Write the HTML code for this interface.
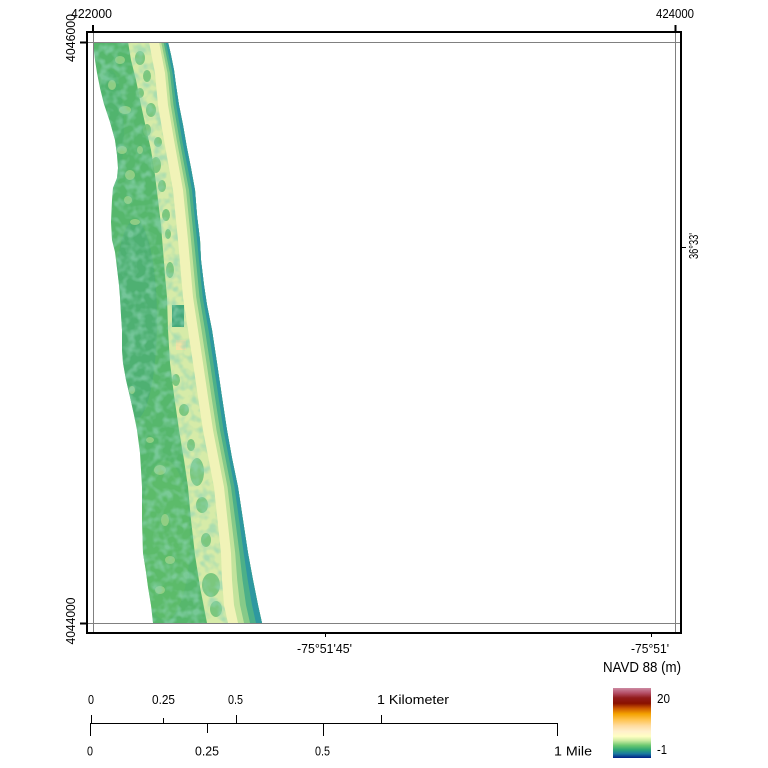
<!DOCTYPE html>
<html><head><meta charset="utf-8"><style>
html,body{margin:0;padding:0;background:#fff;}
svg{display:block}
text{font-family:"Liberation Sans",sans-serif;fill:#000;font-size:13px}
</style></head><body>
<svg width="768" height="768" viewBox="0 0 768 768" xmlns="http://www.w3.org/2000/svg">
<defs>
<clipPath id="isl"><polygon points="93,42 95,60 97,73 100,88 104,104 110,122 115,140 117,155 118,168 117,178 113,188 112,200 111,222 112,240 115,252 117,268 119,285 120,297 121,315 122,330 122,350 123,363 126,380 130,397 134,415 137,430 140,453 141,470 142,487 142,520 143,553 146,572 148,587 151,605 153,623 262,623 258,605 253,580 248,553 243,520 238,487 232,458 227,430 222,397 217,363 212,330 207,305 204,285 201,260 200,240 197,215 195,190 191,168 187,148 183,125 179,105 176,85 174,70 171,55 168,42"/></clipPath>
<linearGradient id="cb" x1="0" y1="0" x2="0" y2="1">
<stop offset="0" stop-color="#cc8aa2"/>
<stop offset="0.07" stop-color="#b55068"/>
<stop offset="0.14" stop-color="#921c1c"/>
<stop offset="0.22" stop-color="#8a1000"/>
<stop offset="0.29" stop-color="#cc5800"/>
<stop offset="0.37" stop-color="#f4a200"/>
<stop offset="0.45" stop-color="#ffc24a"/>
<stop offset="0.54" stop-color="#ffdca0"/>
<stop offset="0.62" stop-color="#fff0cc"/>
<stop offset="0.69" stop-color="#ffffc4"/>
<stop offset="0.75" stop-color="#cdeca2"/>
<stop offset="0.82" stop-color="#6cc870"/>
<stop offset="0.88" stop-color="#30a874"/>
<stop offset="0.94" stop-color="#1a78a0"/>
<stop offset="1" stop-color="#001e86"/>
</linearGradient>
<filter id="nz" x="0" y="0" width="1" height="1">
 <feTurbulence type="fractalNoise" baseFrequency="0.11" numOctaves="2" seed="7" result="t"/>
 <feColorMatrix in="t" type="matrix" values="0 0 0 0 0.27  0 0 0 0 0.66  0 0 0 0 0.46  3.2 0 0 0 -1.35"/>
</filter>
</defs>
<rect width="768" height="768" fill="#fff"/>

<g clip-path="url(#isl)">
 <rect x="88" y="42" width="200" height="581" fill="#56b76c"/>
 <ellipse cx="135" cy="320" rx="22" ry="100" fill="#44a979" opacity="0.45"/>
 <ellipse cx="110" cy="130" rx="14" ry="60" fill="#4aaf74" opacity="0.4"/>
 <ellipse cx="165" cy="540" rx="25" ry="80" fill="#62bf68" opacity="0.5"/>
 <!-- pale spots in green -->
 <g fill="#9fd48a" opacity="0.8">
  <ellipse cx="120" cy="60" rx="5" ry="4"/><ellipse cx="112" cy="85" rx="4" ry="5"/>
  <ellipse cx="125" cy="110" rx="6" ry="4"/><ellipse cx="122" cy="150" rx="5" ry="4"/>
  <ellipse cx="130" cy="175" rx="5" ry="5"/><ellipse cx="128" cy="200" rx="4" ry="4"/>
  <ellipse cx="135" cy="222" rx="5" ry="3"/><ellipse cx="140" cy="150" rx="3" ry="4"/>
  <ellipse cx="160" cy="470" rx="6" ry="5"/><ellipse cx="165" cy="520" rx="4" ry="6"/>
  <ellipse cx="170" cy="560" rx="5" ry="4"/><ellipse cx="160" cy="590" rx="5" ry="4"/>
  <ellipse cx="150" cy="440" rx="4" ry="3"/><ellipse cx="132" cy="390" rx="3" ry="4"/>
 </g>
 <!-- dune zone -->
 <polygon fill="#d6eba8" points="128,42 131,60 136,80 141,105 146,128 151,150 155,175 158,200 161,225 163,250 165,275 167,297 168,330 170,363 174,395 179,430 184,460 188,487 191,520 195,555 200,587 207,623 280,623 280,42"/>
 <g fill="#6cc177" opacity="0.85">
  <ellipse cx="140" cy="58" rx="5" ry="7"/><ellipse cx="147" cy="76" rx="4" ry="6"/>
  <ellipse cx="140" cy="93" rx="4" ry="5"/><ellipse cx="151" cy="110" rx="5" ry="7"/>
  <ellipse cx="147" cy="130" rx="4" ry="6"/><ellipse cx="158" cy="142" rx="4" ry="5"/>
  <ellipse cx="156" cy="165" rx="5" ry="8"/><ellipse cx="162" cy="186" rx="4" ry="6"/>
  <ellipse cx="166" cy="215" rx="4" ry="6"/><ellipse cx="168" cy="234" rx="3" ry="5"/>
  <ellipse cx="170" cy="270" rx="4" ry="8"/><ellipse cx="176" cy="380" rx="4" ry="6"/>
  <ellipse cx="184" cy="410" rx="5" ry="6"/><ellipse cx="191" cy="445" rx="4" ry="6"/>
  <ellipse cx="197" cy="472" rx="7" ry="14"/><ellipse cx="202" cy="505" rx="6" ry="8"/>
  <ellipse cx="206" cy="540" rx="5" ry="7"/><ellipse cx="211" cy="585" rx="9" ry="12"/>
  <ellipse cx="216" cy="609" rx="6" ry="8"/>
 </g>
 <rect x="172" y="305" width="12" height="22" fill="#44a87a"/>
 <rect x="176" y="340" width="10" height="10" fill="#f3e2a6"/>
 <!-- noise mottle -->
 <rect x="88" y="42" width="200" height="581" filter="url(#nz)" opacity="0.6"/>
 <!-- beach pale stripe -->
 <polygon fill="#f1f3b8" points="149,42 155,73 158,105 164,140 173,190 178,240 183,297 188,330 193,363 198,397 203,430 214,487 221,553 222,580 224,605 228,623 290,623 290,42"/>
 <polygon fill="#c2e39c" points="159,42 165,73 168,105 174,140 183,190 188,240 193,297 198,330 203,363 208,397 213,430 224,487 231,553 232,580 234,605 238,623 290,623 290,42"/>
 <polygon fill="#86ca88" points="161.2,42 167.5,73 170.7,105 176.7,140 186,190 191,240 196.2,297 201.5,330 206.5,363 211.5,397 216.5,430 227.5,487 235.2,553 237.2,580 240,605 244,623 290,623 290,42"/>
 <polygon fill="#4cb088" points="163.5,42 170,73 173.5,105 179.5,140 189,190 194,240 199.5,297 205,330 210,363 215,397 220,430 231,487 239.5,553 242.5,580 246,605 250,623 290,623 290,42"/>
 <polygon fill="#2e98a0" points="165.7,42 172.5,73 176.2,105 182.2,140 192,190 197,240 202.7,297 208.5,330 213.5,363 218.5,397 223.5,430 234.5,487 243.7,553 247.7,580 252,605 256,623 290,623 290,42"/>
</g>

<!-- gray lines -->
<g stroke="#808080" stroke-width="1" fill="none">
 <line x1="88" y1="42.5" x2="680" y2="42.5"/>
 <line x1="88" y1="623.5" x2="680" y2="623.5"/>
 <line x1="93.5" y1="33" x2="93.5" y2="632"/>
 <line x1="675.5" y1="33" x2="675.5" y2="632"/>
</g>
<!-- frame -->
<rect x="87" y="32" width="594" height="601" fill="none" stroke="#000" stroke-width="2"/>
<!-- ticks -->
<g stroke="#000" stroke-width="2">
 <line x1="93" y1="25" x2="93" y2="31"/>
 <line x1="675.5" y1="25" x2="675.5" y2="31"/>
 <line x1="80" y1="42.5" x2="86" y2="42.5"/>
 <line x1="80" y1="623.5" x2="86" y2="623.5"/>
</g>
<g stroke="#000" stroke-width="1">
 <line x1="325.5" y1="634" x2="325.5" y2="637"/>
 <line x1="651.5" y1="634" x2="651.5" y2="637"/>
 <line x1="682" y1="247.5" x2="686" y2="247.5"/>
</g>

<!-- axis labels -->
<text x="71" y="18" textLength="41" lengthAdjust="spacingAndGlyphs">422000</text>
<text x="656" y="18" textLength="38" lengthAdjust="spacingAndGlyphs">424000</text>
<text transform="translate(75,38) rotate(-90)" x="-24" y="0" textLength="48" lengthAdjust="spacingAndGlyphs">4046000</text>
<text transform="translate(75,621) rotate(-90)" x="-23.5" y="0" textLength="47" lengthAdjust="spacingAndGlyphs">4044000</text>
<text transform="translate(698,246) rotate(-90)" x="-13" y="0" textLength="26" lengthAdjust="spacingAndGlyphs">36°33'</text>
<text x="297" y="653" textLength="55" lengthAdjust="spacingAndGlyphs">-75°51'45'</text>
<text x="631" y="653" textLength="38" lengthAdjust="spacingAndGlyphs">-75°51'</text>
<text x="603" y="672" style="font-size:15px" textLength="78" lengthAdjust="spacingAndGlyphs">NAVD 88 (m)</text>

<!-- colorbar -->
<rect x="613" y="688" width="38" height="70" fill="url(#cb)"/>
<text x="657" y="703" textLength="13" lengthAdjust="spacingAndGlyphs">20</text>
<text x="657" y="754" textLength="10" lengthAdjust="spacingAndGlyphs">-1</text>

<!-- scale bar -->
<g stroke="#000" stroke-width="1">
 <line x1="90" y1="723.5" x2="558" y2="723.5"/>
 <line x1="91.5" y1="715" x2="91.5" y2="723.5"/>
 <line x1="163.5" y1="718" x2="163.5" y2="723.5"/>
 <line x1="236.5" y1="715" x2="236.5" y2="723.5"/>
 <line x1="381.5" y1="715" x2="381.5" y2="723.5"/>
 <line x1="90.5" y1="723.5" x2="90.5" y2="736"/>
 <line x1="207.5" y1="723.5" x2="207.5" y2="733"/>
 <line x1="323.5" y1="723.5" x2="323.5" y2="736"/>
 <line x1="557.5" y1="723.5" x2="557.5" y2="736"/>
</g>
<text x="88" y="704" textLength="6" lengthAdjust="spacingAndGlyphs">0</text>
<text x="152" y="704" textLength="23" lengthAdjust="spacingAndGlyphs">0.25</text>
<text x="228" y="704" textLength="15" lengthAdjust="spacingAndGlyphs">0.5</text>
<text x="377" y="704" textLength="72" lengthAdjust="spacingAndGlyphs">1 Kilometer</text>
<text x="87" y="755.5" textLength="6" lengthAdjust="spacingAndGlyphs">0</text>
<text x="195" y="755.5" textLength="24" lengthAdjust="spacingAndGlyphs">0.25</text>
<text x="315" y="755.5" textLength="15" lengthAdjust="spacingAndGlyphs">0.5</text>
<text x="554" y="755.5" textLength="38" lengthAdjust="spacingAndGlyphs">1 Mile</text>
</svg>
</body></html>
